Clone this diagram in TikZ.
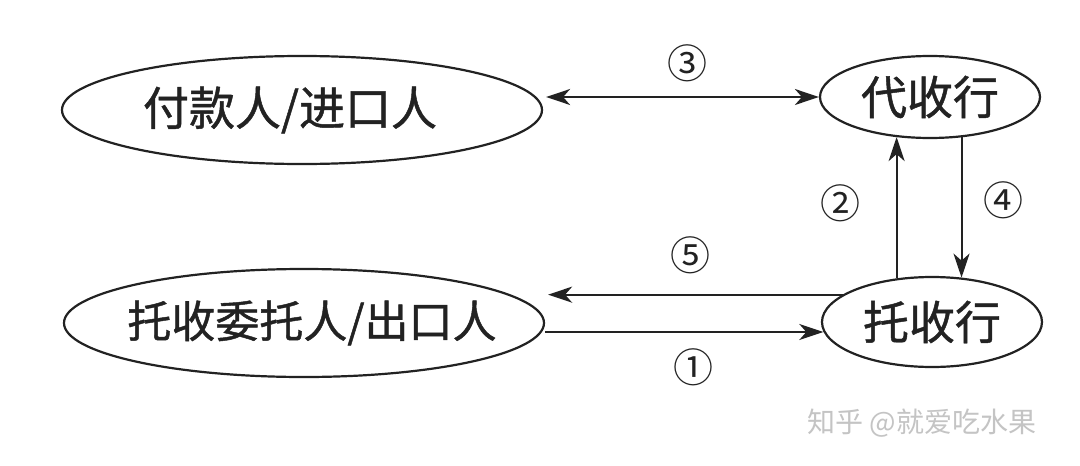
\documentclass[tikz,border=0pt]{standalone}
\usepackage{fontspec}
\newfontfamily\cjk[FakeBold=1]{Noto Sans CJK SC}
\newfontfamily\cjkplain{Noto Sans CJK SC}
\usetikzlibrary{shapes.geometric,arrows.meta,calc}
\definecolor{ink}{HTML}{222222}
\definecolor{wm}{HTML}{C4C4C4}
\begin{document}
\begin{tikzpicture}[x=1pt,y=-1pt,
  oval/.style={draw=ink,line width=2.2pt,ellipse,inner sep=0pt,font=\cjk\fontsize{46}{50}\selectfont,text=ink},
  arr/.style={draw=ink,line width=2pt,-{Stealth[length=24pt,width=16pt,inset=7pt]}},
  arrb/.style={draw=ink,line width=2pt,{Stealth[length=24pt,width=16pt,inset=7pt]}-{Stealth[length=24pt,width=16pt,inset=7pt]}},
  num/.style={font=\cjkplain\fontsize{40}{44}\selectfont,text=ink,inner sep=0pt}]
\useasboundingbox[fill=white] (0,0) rectangle (1080,466);
\node[oval,minimum width=480pt,minimum height=108pt] (A) at (302,110) {\makebox[0pt]{\hspace*{-24pt}付款人/进口人}};
\node[oval,minimum width=220pt,minimum height=82pt] (B) at (930,97) {\makebox[0pt]{代收行}};
\node[oval,minimum width=480pt,minimum height=108pt,font=\cjk\fontsize{44}{48}\selectfont] (C) at (304,323) {\makebox[0pt]{\hspace*{16pt}托收委托人/出口人}};
\node[oval,minimum width=220pt,minimum height=90pt] (D) at (932,322) {\makebox[0pt]{托收行}};
% connectors
\draw[arrb] ([xshift=3pt]A.east |- B.west) -- (B.west);
\draw[arr] (D.129) -- (D.129 |- B.230);
\draw[arr] (B.308) -- (B.308 |- D.56);
\draw[arr] (D.163) -- ([xshift=3pt]D.163 -| C.east);
\draw[arr] ([yshift=-9pt]C.east) -- ([yshift=-9pt]C.east -| D.185);
% labels
\node[num] (n3) at (687,63) {③};
\node[num] (n2) at (840,203) {②};
\node[num] (n4) at (1003,200) {④};
\node[num] (n5) at (690,255) {⑤};
\node[num] (n1) at (693,367) {①};
\node[font=\cjkplain\fontsize{28}{30}\selectfont,text=wm,inner sep=0pt] (wmk) at (922,423) {知乎 @就爱吃水果};
\end{tikzpicture}
\end{document}
